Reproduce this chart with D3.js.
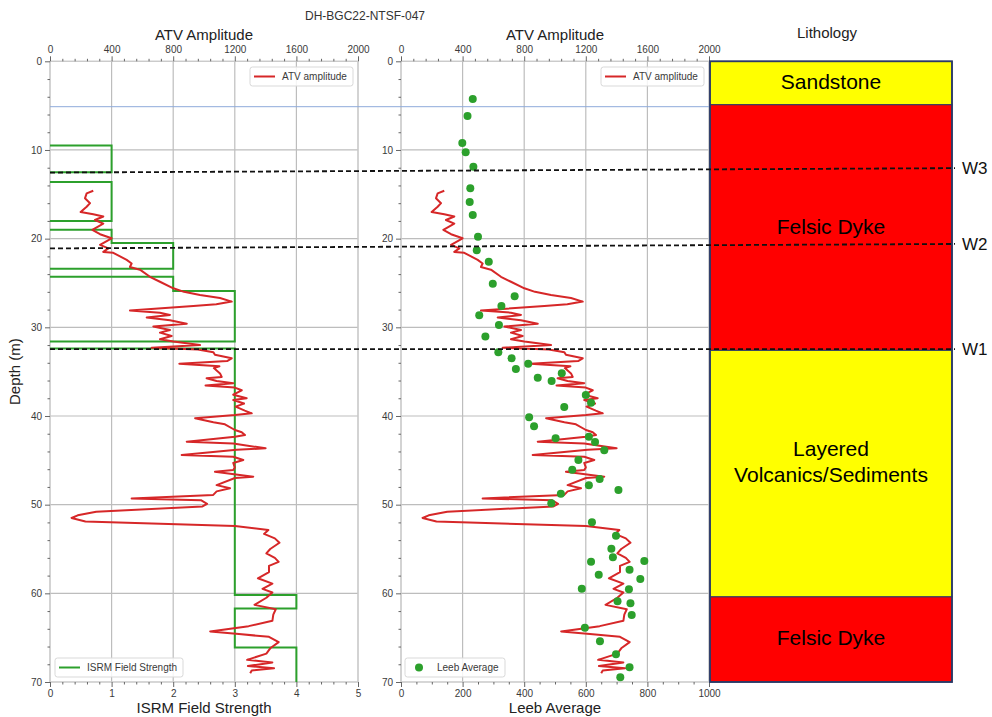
<!DOCTYPE html>
<html>
<head>
<meta charset="utf-8">
<script src="https://cdn.jsdelivr.net/npm/d3@7"></script>
<style>
  body { margin: 0; background: #fff; }
  svg { display: block; font-family: "Liberation Sans", Arial, Helvetica, sans-serif; }
</style>
</head>
<body>
<svg id="chart" width="992" height="717"></svg>
<script>
// ---------------- data ----------------
const holeId = "DH-BGC22-NTSF-047";

// ATV amplitude log (depth in m, amplitude)
const atvDepth = [14.6,14.9,15.45,16.0,16.4,17.0,17.25,17.5,17.9,18.3,19.0,19.5,19.96,20.7,21.1,21.5,21.6,22.4,22.8,23.2,23.5,24.3,24.86,25.6,26.0,26.36,26.7,27.1,27.4,27.6,28.1,28.35,28.6,28.9,29.2,29.6,29.9,30.3,30.6,30.98,31.35,31.6,32.0,32.3,32.5,32.8,33.1,33.5,33.8,34.1,34.4,34.6,35.2,35.6,35.75,36.05,36.3,36.55,36.8,37.1,37.6,38.0,38.2,38.6,38.95,39.4,39.7,39.9,40.26,40.7,40.94,41.58,41.84,42.15,42.34,42.9,43.1,43.65,43.8,44.4,44.6,44.96,45.3,45.8,46.1,46.3,46.85,47.0,47.8,48.16,48.5,48.9,49.3,49.5,49.9,50.2,50.8,51.2,51.5,51.9,52.4,52.86,53.3,53.8,54.3,55.0,55.5,56.0,56.45,56.9,57.6,58.3,58.9,59.5,59.9,60.5,61.3,61.8,62.4,63.1,63.7,64.3,64.6,64.9,65.5,66.2,66.8,67.5,67.8,68.2,68.45,68.7,69.0];
const atvAmp = [281,238,227,260,238,199,281,346,292,346,275,325,400,325,379,346,411,498,530,519,584,649,714,801,870,974,1104,1180,1080,931,519,714,779,628,779,888,671,779,714,790,714,801,974,660,960,1061,1071,1180,1150,840,1100,1064,1104,1115,1017,1082,1190,1010,1200,1245,1190,1277,1190,1260,1205,1265,1310,1201,942,1061,1136,1201,1245,1266,1201,888,1190,1400,1212,855,1190,1255,1190,1200,1190,1071,1320,1201,1082,1169,1082,1060,530,980,1020,990,300,180,140,230,1201,1418,1390,1460,1490,1430,1405,1460,1485,1422,1422,1350,1444,1380,1444,1405,1328,1466,1450,1444,1290,1040,1227,1422,1485,1430,1405,1280,1444,1285,1455,1310,1300];

// ISRM field strength intervals
const isrmTop   = [9.5, 13.6, 19.0, 20.5, 24.3, 25.9, 32.4, 60.2, 61.7, 66.1];
const isrmBase  = [12.5, 18.0, 20.5, 23.4, 25.9, 31.6, 60.2, 61.7, 66.1, 70.0];
const isrmValue = [1, 1, 1, 2, 2, 3, 3, 4, 3, 4];

// Leeb hardness averages
const leebDepth = [4.25,6.17,9.21,10.26,11.88,14.33,15.87,17.33,19.78,21.32,22.6,25.08,26.5,27.6,28.65,29.74,31.05,32.8,33.5,34.1,34.7,35.19,35.7,36.06,37.63,38.5,39.0,40.15,41.16,42.33,42.5,42.93,43.87,44.96,46.06,47.1,47.82,48.35,48.76,49.85,51.99,53.5,54.97,55.94,56.36,56.43,57.33,57.9,58.39,59.48,59.55,60.9,61.13,62.45,63.88,65.41,66.88,68.34,69.47];
const leebValue = [233,216,199,210,235,225,223,233,250,246,285,298,369,326,254,318,274,316,359,413,373,522,444,489,600,617,530,416,432,610,502,630,660,576,556,645,610,706,519,488,620,698,683,688,790,617,742,642,777,587,740,703,745,749,597,646,698,742,712];

// Lithology units
const lithoTop   = [0, 4.9, 32.6, 60.4];
const lithoBase  = [4.9, 32.6, 60.4, 70];
const lithoName  = [["Sandstone"], ["Felsic Dyke"], ["Layered", "Volcanics/Sediments"], ["Felsic Dyke"]];
const lithoColor = ["#ffff00", "#ff0000", "#ffff00", "#ff0000"];

// Contact picks (depth where the pick line starts on the logs and ends at the lithology column)
const contactName       = ["W3", "W2", "W1"];
const contactDepthStart = [12.55, 21.1, 32.45];
const contactDepthEnd   = [12.05, 20.6, 32.45];

// Reference depth line
const referenceDepth = 5.12;

// Ticks
const depthTicks = [0, 10, 20, 30, 40, 50, 60, 70];
const atvTicks   = [0, 400, 800, 1200, 1600, 2000];
const isrmTicks  = [0, 1, 2, 3, 4, 5];
const leebTicks  = [0, 200, 400, 600, 800, 1000];

// ---------------- layout ----------------
const svg = d3.select("#chart");
const font = '"Liberation Sans", Arial, Helvetica, sans-serif';
const plotTop = 61.3, plotBottom = 682;
const panelL = [50, 358], panelR = [401, 709], litho = [710, 952];

const y = d3.scaleLinear().domain([0, 70]).range([plotTop, plotBottom]);
const atvXL = d3.scaleLinear().domain([0, 2000]).range(panelL);
const isrmX = d3.scaleLinear().domain([0, 5]).range(panelL);
const atvXR = d3.scaleLinear().domain([0, 2000]).range(panelR);
const leebX = d3.scaleLinear().domain([0, 1000]).range(panelR);

const gridColor = "#bdbdbd";
const red = "#d62728", green = "#2ca02c";

function styleAxis(g) {
  g.select(".domain").remove();
  g.selectAll(".tick line").attr("stroke", "#666").attr("stroke-width", 1);
  g.selectAll(".tick text").attr("fill", "#3a3a3a").style("font-size", "10px").style("font-family", font);
}

function minorValues(domain, step, majors) {
  const out = [];
  for (let v = domain[0]; v <= domain[1] + 1e-9; v += step) {
    const r = Math.round(v * 1000) / 1000;
    if (!majors.some(m => Math.abs(m - r) < 1e-6)) out.push(r);
  }
  return out;
}

function drawPanel(xTop, xBot, topTicks, botTicks, topMinor, botMinor, botFormat, clipId) {
  const [x0, x1] = xTop.range();
  const g = svg.append("g");

  // grid
  g.append("g").selectAll("line").data(topTicks).join("line")
    .attr("x1", d => xTop(d)).attr("x2", d => xTop(d))
    .attr("y1", plotTop).attr("y2", plotBottom)
    .attr("stroke", gridColor).attr("stroke-width", 1.2);
  g.append("g").selectAll("line").data(depthTicks).join("line")
    .attr("x1", x0).attr("x2", x1)
    .attr("y1", d => y(d)).attr("y2", d => y(d))
    .attr("stroke", gridColor).attr("stroke-width", 1.2);

  // frame
  g.append("rect").attr("x", x0).attr("y", plotTop).attr("width", x1 - x0).attr("height", plotBottom - plotTop)
    .attr("fill", "none").attr("stroke", "#cfcfcf").attr("stroke-width", 1);

  // top axis
  g.append("g").attr("transform", `translate(0,${plotTop})`)
    .call(d3.axisTop(xTop).tickValues(topTicks).tickSize(5).tickPadding(3).tickFormat(d3.format("d")))
    .call(styleAxis);
  g.append("g").attr("transform", `translate(0,${plotTop})`)
    .call(d3.axisTop(xTop).tickValues(topMinor).tickSize(2.5).tickFormat(() => ""))
    .call(styleAxis);

  // bottom axis
  g.append("g").attr("transform", `translate(0,${plotBottom})`)
    .call(d3.axisBottom(xBot).tickValues(botTicks).tickSize(5).tickPadding(3).tickFormat(botFormat))
    .call(styleAxis);
  g.append("g").attr("transform", `translate(0,${plotBottom})`)
    .call(d3.axisBottom(xBot).tickValues(botMinor).tickSize(2.5).tickFormat(() => ""))
    .call(styleAxis);

  // depth axis
  g.append("g").attr("transform", `translate(${x0},0)`)
    .call(d3.axisLeft(y).tickValues(depthTicks).tickSize(5).tickPadding(3).tickFormat(d3.format("d")))
    .call(styleAxis);
  g.append("g").attr("transform", `translate(${x0},0)`)
    .call(d3.axisLeft(y).tickValues(minorValues([0, 70], 2, depthTicks)).tickSize(2.5).tickFormat(() => ""))
    .call(styleAxis);

  svg.append("clipPath").attr("id", clipId).append("rect")
    .attr("x", x0).attr("y", plotTop).attr("width", x1 - x0).attr("height", plotBottom - plotTop);
  return g;
}

function legend(x, yTop, w, label, kind) {
  const g = svg.append("g");
  g.append("rect").attr("x", x).attr("y", yTop).attr("width", w).attr("height", 19).attr("rx", 2.5)
    .attr("fill", "#fff").attr("fill-opacity", 0.85).attr("stroke", "#d9d9d9");
  if (kind === "line-red" || kind === "line-green") {
    g.append("line").attr("x1", x + 4).attr("x2", x + 25).attr("y1", yTop + 9.5).attr("y2", yTop + 9.5)
      .attr("stroke", kind === "line-red" ? red : green).attr("stroke-width", 2);
  } else {
    g.append("circle").attr("cx", x + 14).attr("cy", yTop + 9.5).attr("r", 4).attr("fill", green);
  }
  g.append("text").attr("x", x + 32).attr("y", yTop + 13)
    .attr("fill", "#3a3a3a").style("font-size", "10px").text(label);
}

// ---------------- panels ----------------
const atvData = atvDepth.map((d, i) => ({ depth: d, amp: atvAmp[i] }));

// left panel: ATV amplitude + ISRM field strength
drawPanel(atvXL, isrmX, atvTicks, isrmTicks,
  minorValues([0, 2000], 80, atvTicks), minorValues([0, 5], 0.2, isrmTicks), d3.format("d"), "clipL");

// right panel: ATV amplitude + Leeb average
drawPanel(atvXR, leebX, atvTicks, leebTicks,
  minorValues([0, 2000], 80, atvTicks), minorValues([0, 1000], 50, leebTicks), d3.format("d"), "clipR");

// reference depth line across both log panels
svg.append("line")
  .attr("x1", atvXL(0)).attr("x2", atvXR(2000))
  .attr("y1", y(referenceDepth)).attr("y2", y(referenceDepth))
  .attr("stroke", "#8eaadb").attr("stroke-width", 1);

// ISRM step trace: one connected path per contiguous run of intervals
const isrmRuns = [];
isrmTop.forEach((t, i) => {
  const startNew = i === 0 || Math.abs(isrmBase[i - 1] - t) > 1e-6;
  if (startNew) isrmRuns.push([[0, t]]);
  const run = isrmRuns[isrmRuns.length - 1];
  run.push([isrmValue[i], t], [isrmValue[i], isrmBase[i]]);
  const endRun = i === isrmTop.length - 1 || Math.abs(isrmTop[i + 1] - isrmBase[i]) > 1e-6;
  if (endRun && isrmBase[i] < 70) run.push([0, isrmBase[i]]);
});
const isrmLine = d3.line().x(p => isrmX(p[0])).y(p => y(p[1]));
svg.append("g").attr("clip-path", "url(#clipL)")
  .selectAll("path").data(isrmRuns).join("path")
  .attr("d", isrmLine).attr("fill", "none").attr("stroke", green).attr("stroke-width", 2);

// ATV traces
const atvLineL = d3.line().x(d => atvXL(d.amp)).y(d => y(d.depth));
const atvLineR = d3.line().x(d => atvXR(d.amp)).y(d => y(d.depth));
svg.append("path").datum(atvData).attr("clip-path", "url(#clipL)")
  .attr("d", atvLineL).attr("fill", "none").attr("stroke", red).attr("stroke-width", 2).attr("stroke-linejoin", "round");
svg.append("path").datum(atvData).attr("clip-path", "url(#clipR)")
  .attr("d", atvLineR).attr("fill", "none").attr("stroke", red).attr("stroke-width", 2).attr("stroke-linejoin", "round");

// Leeb points
svg.append("g").attr("clip-path", "url(#clipR)")
  .selectAll("circle").data(leebDepth.map((d, i) => ({ depth: d, v: leebValue[i] }))).join("circle")
  .attr("cx", d => leebX(d.v)).attr("cy", d => y(d.depth)).attr("r", 4).attr("fill", green);

// ---------------- lithology column ----------------
const lithoG = svg.append("g");
lithoTop.forEach((t, i) => {
  lithoG.append("rect").attr("x", litho[0]).attr("y", y(t))
    .attr("width", litho[1] - litho[0]).attr("height", y(lithoBase[i]) - y(t))
    .attr("fill", lithoColor[i]).attr("stroke", "#2b3a67").attr("stroke-width", 1);
  const mid = (y(t) + y(lithoBase[i])) / 2;
  const lines = lithoName[i];
  lines.forEach((ln, j) => {
    const cy = mid - 1.5 + (j - (lines.length - 1)) * 26 + (lines.length > 1 ? 2.5 : 0);
    lithoG.append("text").attr("x", (litho[0] + litho[1]) / 2).attr("y", cy + 7.5)
      .attr("text-anchor", "middle").attr("fill", "#000").style("font-size", "21px").text(ln);
  });
});
lithoG.append("rect").attr("x", litho[0]).attr("y", plotTop).attr("width", litho[1] - litho[0]).attr("height", plotBottom - plotTop)
  .attr("fill", "none").attr("stroke", "#2b3a67").attr("stroke-width", 1.8);

// ---------------- contact picks ----------------
const picks = svg.append("g");
contactName.forEach((n, i) => {
  picks.append("line")
    .attr("x1", atvXL(0)).attr("x2", litho[1] + 3)
    .attr("y1", y(contactDepthStart[i])).attr("y2", y(contactDepthEnd[i]))
    .attr("stroke", "#111").attr("stroke-width", 1.8).attr("stroke-dasharray", "5,3");
  picks.append("text").attr("x", 962).attr("y", y(contactDepthEnd[i]) + 6)
    .attr("fill", "#111").style("font-size", "17px").text(n);
});

// ---------------- legends ----------------
legend(panelL[1] - 5 - 103, 67, 103, "ATV amplitude", "line-red");
legend(panelR[1] - 5 - 103, 67, 103, "ATV amplitude", "line-red");
legend(panelL[0] + 5, 658, 128, "ISRM Field Strength", "line-green");
legend(panelR[0] + 4, 658, 100, "Leeb Average", "dot");

// ---------------- titles ----------------
const titleColor = "#222";
svg.append("text").attr("x", 365).attr("y", 20).attr("text-anchor", "middle")
  .attr("fill", "#333").style("font-size", "12px").text(holeId);
svg.append("text").attr("x", d3.mean(panelL)).attr("y", 40).attr("text-anchor", "middle")
  .attr("fill", titleColor).style("font-size", "15px").text("ATV Amplitude");
svg.append("text").attr("x", d3.mean(panelR)).attr("y", 40).attr("text-anchor", "middle")
  .attr("fill", titleColor).style("font-size", "15px").text("ATV Amplitude");
svg.append("text").attr("x", 827).attr("y", 38).attr("text-anchor", "middle")
  .attr("fill", titleColor).style("font-size", "15px").text("Lithology");
svg.append("text").attr("x", d3.mean(panelL)).attr("y", 713).attr("text-anchor", "middle")
  .attr("fill", titleColor).style("font-size", "15px").text("ISRM Field Strength");
svg.append("text").attr("x", d3.mean(panelR)).attr("y", 713).attr("text-anchor", "middle")
  .attr("fill", titleColor).style("font-size", "15px").text("Leeb Average");
svg.append("text").attr("transform", `translate(20,${(plotTop + plotBottom) / 2}) rotate(-90)`)
  .attr("text-anchor", "middle").attr("fill", titleColor).style("font-size", "15px").text("Depth (m)");
</script>
</body>
</html>
